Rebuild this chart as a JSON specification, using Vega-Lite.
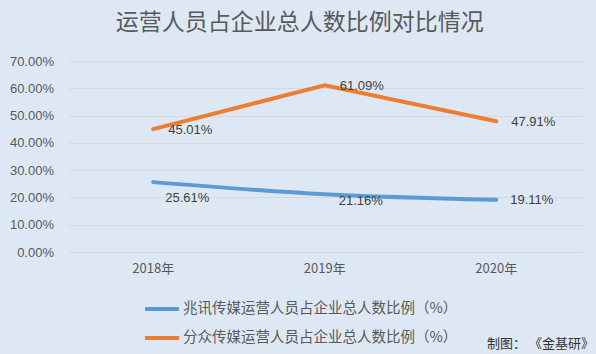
{
  "$schema": "https://vega.github.io/schema/vega-lite/v6.json",
  "autosize": {"type": "none"},
  "width": 514.5,
  "height": 191,
  "padding": {"left": 67.5, "top": 61, "right": 14, "bottom": 102},
  "background": "#dde8f4",
  "title": {
    "text": "运营人员占企业总人数比例对比情况",
    "font": "Noto Sans CJK SC",
    "fontSize": 23,
    "fontWeight": "normal",
    "color": "#595959",
    "anchor": "middle",
    "dx": -25,
    "offset": 20
  },
  "data": {
    "values": [
      {"year": "2018年", "series": "兆讯传媒运营人员占企业总人数比例（%）", "value": 0.2561},
      {"year": "2019年", "series": "兆讯传媒运营人员占企业总人数比例（%）", "value": 0.2116},
      {"year": "2020年", "series": "兆讯传媒运营人员占企业总人数比例（%）", "value": 0.1911},
      {"year": "2018年", "series": "分众传媒运营人员占企业总人数比例（%）", "value": 0.4501},
      {"year": "2019年", "series": "分众传媒运营人员占企业总人数比例（%）", "value": 0.6109},
      {"year": "2020年", "series": "分众传媒运营人员占企业总人数比例（%）", "value": 0.4791}
    ]
  },
  "encoding": {
    "x": {
      "field": "year",
      "type": "ordinal",
      "sort": null,
      "scale": {"type": "band", "paddingInner": 0, "paddingOuter": 0},
      "axis": {
        "title": "制图： 《金基研》",
        "titleFont": "Noto Sans CJK SC",
        "titleFontSize": 13,
        "titleFontWeight": "normal",
        "titleColor": "#333333",
        "titleAnchor": "end",
        "titleAlign": "right",
        "titleBaseline": "middle",
        "titleX": 526,
        "titleY": 91,
        "labelAngle": 0,
        "labelFont": "Noto Sans CJK SC",
        "labelFontSize": 13,
        "labelColor": "#595959",
        "labelPadding": 10,
        "domain": false,
        "ticks": false,
        "grid": false
      }
    },
    "y": {
      "field": "value",
      "type": "quantitative",
      "scale": {"domain": [0, 0.7], "nice": false},
      "axis": {
        "title": null,
        "format": ".2%",
        "values": [0, 0.1, 0.2, 0.3, 0.4, 0.5, 0.6, 0.7],
        "labelFont": "Liberation Sans",
        "labelFontSize": 13,
        "labelColor": "#595959",
        "labelPadding": 14,
        "domain": false,
        "ticks": false,
        "grid": true,
        "gridColor": "#d4d9de",
        "gridWidth": 1
      }
    }
  },
  "layer": [
    {
      "transform": [{"filter": "datum.series === '兆讯传媒运营人员占企业总人数比例（%）'"}],
      "mark": {"type": "line", "interpolate": "monotone", "strokeWidth": 4, "strokeCap": "round"},
      "encoding": {
        "color": {
          "field": "series",
          "type": "nominal",
          "scale": {
            "domain": ["兆讯传媒运营人员占企业总人数比例（%）", "分众传媒运营人员占企业总人数比例（%）"],
            "range": ["#5b9bd5", "#ed7d31"]
          },
          "legend": {
            "title": null,
            "orient": "none",
            "direction": "vertical",
            "legendX": 84,
            "legendY": 237.5,
            "symbolType": "M-2,0H2",
            "symbolSize": 289,
            "symbolStrokeWidth": 4,
            "labelFont": "Noto Sans CJK SC",
            "labelFontSize": 14.5,
            "labelColor": "#595959",
            "labelOffset": 10.5,
            "rowPadding": 10,
            "labelLimit": 400
          }
        }
      }
    },
    {
      "transform": [{"filter": "datum.series === '分众传媒运营人员占企业总人数比例（%）'"}],
      "mark": {"type": "line", "strokeWidth": 4, "strokeCap": "round"},
      "encoding": {
        "color": {"field": "series", "type": "nominal"}
      }
    },
    {
      "transform": [{"filter": "datum.series === '分众传媒运营人员占企业总人数比例（%）'"}],
      "mark": {"type": "text", "align": "left", "baseline": "middle", "dx": 15, "dy": 1, "font": "Liberation Sans", "fontSize": 13, "color": "#404040"},
      "encoding": {"text": {"field": "value", "type": "quantitative", "format": ".2%"}}
    },
    {
      "transform": [{"filter": "datum.series === '兆讯传媒运营人员占企业总人数比例（%）' && datum.year === '2018年'"}],
      "mark": {"type": "text", "align": "left", "baseline": "middle", "dx": 12, "dy": 16, "font": "Liberation Sans", "fontSize": 13, "color": "#404040"},
      "encoding": {"text": {"field": "value", "type": "quantitative", "format": ".2%"}}
    },
    {
      "transform": [{"filter": "datum.series === '兆讯传媒运营人员占企业总人数比例（%）' && datum.year === '2019年'"}],
      "mark": {"type": "text", "align": "left", "baseline": "middle", "dx": 14, "dy": 7, "font": "Liberation Sans", "fontSize": 13, "color": "#404040"},
      "encoding": {"text": {"field": "value", "type": "quantitative", "format": ".2%"}}
    },
    {
      "transform": [{"filter": "datum.series === '兆讯传媒运营人员占企业总人数比例（%）' && datum.year === '2020年'"}],
      "mark": {"type": "text", "align": "left", "baseline": "middle", "dx": 14, "dy": 0, "font": "Liberation Sans", "fontSize": 13, "color": "#404040"},
      "encoding": {"text": {"field": "value", "type": "quantitative", "format": ".2%"}}
    }
  ],
  "config": {
    "view": {"stroke": null}
  }
}
